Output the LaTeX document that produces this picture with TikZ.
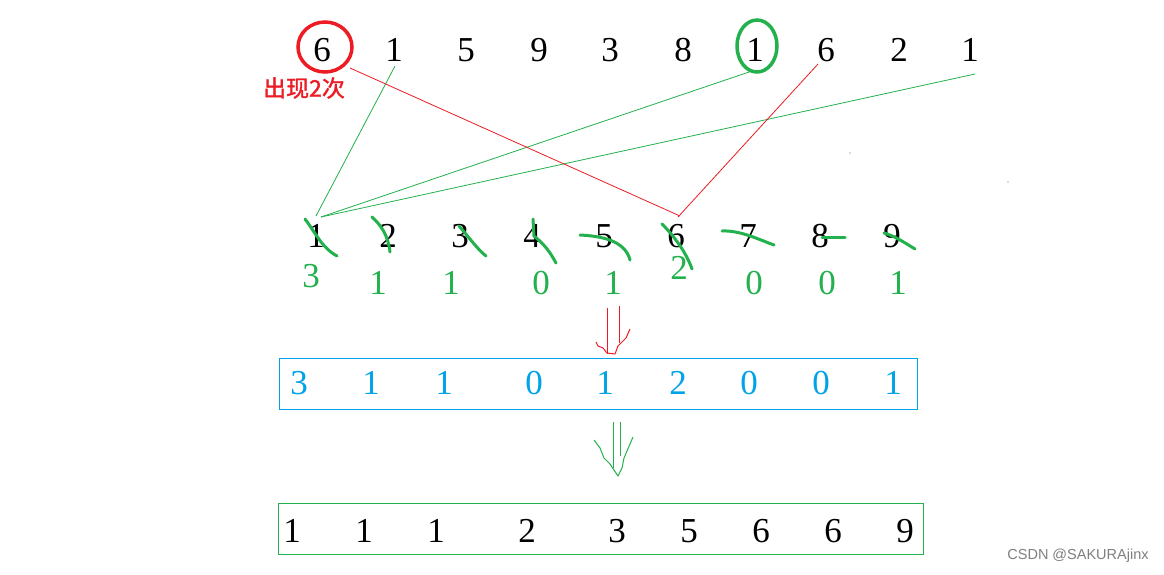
\documentclass[tikz,border=0pt]{standalone}
\usepackage{fontspec}
\setmainfont{Liberation Serif}
\newfontfamily\cjk[FakeBold=1.5]{Noto Sans CJK SC}
\newfontfamily\wm{Liberation Sans}
\definecolor{pred}{RGB}{237,28,36}
\definecolor{pgreen}{RGB}{34,177,76}
\definecolor{pblue}{RGB}{0,162,232}
\begin{document}
\begin{tikzpicture}[x=1pt,y=-1pt,
  dig/.style={inner sep=0pt,font=\fontsize{35}{35}\selectfont},
  gdig/.style={dig,text=pgreen},
  bdig/.style={dig,text=pblue},
  gline/.style={draw=pgreen,line width=0.8pt},
  rline/.style={draw=pred,line width=0.8pt},
  scrib/.style={draw=pgreen,line width=3pt,line cap=round,line join=round},
]
\useasboundingbox[fill=white] (0,0) rectangle (1164,574);
% top row
\foreach \x/\d [count=\i] in {322/6,394/1,466/5,539/9,610/3,683/8,755/1,826/6,899/2,970/1}
  \node[dig] (t\i) at (\x,50) {\d};
% circles
\draw[pred,line width=3.5pt] (325,47) ellipse [x radius=27, y radius=25];
\draw[pgreen,line width=3.5pt] (757,46) ellipse [x radius=20, y radius=26];
\coordinate (rc) at (350,68);
\coordinate (gc) at (752,71);
\node[text=pred,inner sep=0pt,font=\cjk\fontsize{23}{23}\selectfont] (lbl) at (304,88) {出现2次};
% middle row
\foreach \x [count=\i] in {316,388,460,532,604,676,748,820,892}
  \node[dig] (m\i) at (\x,236) {\i};
% connectors
\coordinate (m1a) at (316,216);
\coordinate (m1b) at (321,217);
\coordinate (m6a) at (680,216);
\coordinate (m6b) at (678,217);
\coordinate (t2a) at (395,66);
\coordinate (t8a) at (818,64);
\coordinate (t10a) at (975,74);
\draw[gline] (t2a) -- (m1a);
\draw[gline] (gc) -- (m1b);
\draw[gline] (t10a) -- (m1b);
\draw[rline] (rc) -- (m6a);
\draw[rline] (t8a) -- (m6b);
% scribbles
\draw[scrib] (305,219) .. controls (315,232) and (322,248) .. (337,256);
\draw[scrib] (372,217) .. controls (382,226) and (388,236) .. (390,252);
\draw[scrib] (459,226) .. controls (468,236) and (478,250) .. (486,256);
\draw[scrib] (533,219) -- (534,236) .. controls (545,245) and (550,252) .. (556,263);
\draw[scrib] (580,235) .. controls (600,236) and (625,240) .. (630,260);
\draw[scrib] (662,224) .. controls (674,236) and (686,252) .. (692,269);
\draw[scrib] (722,231) .. controls (740,230) and (760,240) .. (774,245);
\draw[scrib] (822,237) -- (845,237);
\draw[scrib] (884,233) .. controls (895,236) and (905,243) .. (915,249);
% counts
\node[gdig] (c1) at (311,276) {3};
\foreach \x/\d [count=\i from 2] in {378/1,451/1,541/0,613/1}
  \node[gdig] (c\i) at (\x,283) {\d};
\node[gdig] (c6) at (679,268) {2};
\foreach \x/\d [count=\i from 7] in {754/0,827/0,898/1}
  \node[gdig] (c\i) at (\x,283) {\d};
% red arrow
\draw[pred,line width=1pt] (607,308) -- (607,354);
\draw[pred,line width=1pt] (619,306) -- (619,343);
\draw[pred,line width=1pt,line join=round] (596,342) -- (598,346) -- (603,348) -- (607,353) -- (615,354) -- (618,346) -- (626,338) -- (630,329);
% blue box
\node[draw=pblue,line width=1pt,minimum width=638,minimum height=51,inner sep=0pt] (bbox) at (598,383.5) {};
\foreach \x/\d [count=\i] in {299/3,371/1,444/1,534/0,605/1,678/2,749/0,821/0,893/1}
  \node[bdig] (b\i) at (\x,383) {\d};
% green arrow
\draw[pgreen,line width=1pt] (613,422) -- (613,468);
\draw[pgreen,line width=1pt] (620,422) -- (620,456);
\draw[pgreen,line width=1pt,line join=round] (594,440) -- (600,448) -- (604,458) -- (610,464) -- (614,470) -- (618,476) -- (622,468) -- (624,458) -- (630,444) -- (633,437);
% green box
\node[draw=pgreen,line width=1pt,minimum width=645,minimum height=51,inner sep=0pt] (gbox) at (600.5,528.5) {};
\foreach \x/\d [count=\i] in {292/1,364/1,436/1,527/2,617/3,689/5,761/6,833/6,905/9}
  \node[dig] (r\i) at (\x,531) {\d};
% stray dots
\fill[black!60] (850,153) circle (0.7);
\fill[black!60] (1008,182) circle (0.7);
% watermark
\node[text=black!50,inner sep=0pt,font=\wm\fontsize{14.5}{14.5}\selectfont] (wmk) at (1078,556) {CSDN @SAKURAjinx};
\end{tikzpicture}
\end{document}
